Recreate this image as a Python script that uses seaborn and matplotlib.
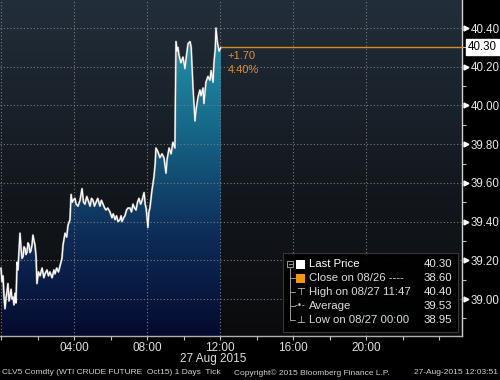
import numpy as np
import pandas as pd
import matplotlib
matplotlib.use("Agg")
import matplotlib.pyplot as plt
import matplotlib.transforms as mtransforms
from matplotlib.colors import LinearSegmentedColormap
from matplotlib.patches import Polygon, Rectangle
from matplotlib.lines import Line2D
import seaborn as sns

# ---------------- data ----------------
hours = [0.00, 0.05, 0.11, 0.16, 0.22, 0.27, 0.33, 0.38, 0.44, 0.50, 0.55, 0.60, 0.66, 0.71,
         0.77, 0.82, 0.88, 0.93, 0.99, 1.04, 1.10, 1.15, 1.21, 1.26, 1.32, 1.37, 1.42, 1.48,
         1.53, 1.59, 1.64, 1.70, 1.75, 1.81, 1.86, 1.92, 1.97,
         2.05, 2.14, 2.25, 2.35, 2.41, 2.52, 2.60, 2.68, 2.80, 2.90, 2.96, 3.05, 3.15, 3.23,
         3.34, 3.40, 3.51, 3.60, 3.67, 3.78, 3.84, 3.90, 3.95, 4.05, 4.12, 4.22, 4.33, 4.44,
         4.52, 4.60, 4.70, 4.77, 4.88, 4.96, 5.04, 5.12, 5.21, 5.30, 5.42, 5.50, 5.59, 5.68,
         5.75, 5.85, 5.97, 6.08, 6.15, 6.25, 6.33, 6.41, 6.52, 6.58, 6.63, 6.72, 6.79, 6.88,
         6.96, 7.07, 7.15, 7.23, 7.32, 7.40, 7.48, 7.56, 7.65, 7.73, 7.84, 7.90, 7.95, 8.05,
         8.10, 8.16, 8.27, 8.38, 8.45, 8.49, 8.60, 8.71, 8.82, 8.93, 9.04, 9.10, 9.21, 9.32,
         9.42, 9.53, 9.59, 9.65, 9.70, 9.75, 9.86, 9.97, 10.08, 10.14, 10.25, 10.36, 10.42,
         10.47, 10.52, 10.63, 10.68, 10.74, 10.79, 10.90, 10.96, 11.07, 11.12, 11.23, 11.34,
         11.45, 11.51, 11.62, 11.67, 11.74, 11.78, 11.85, 11.95, 12.05]
prices = [39.16, 39.09, 39.12, 39.02, 38.95, 39.00, 39.04, 39.08, 38.99, 39.02, 39.05, 39.00, 39.01, 38.97,
          39.03, 38.98, 39.19, 39.15, 39.25, 39.34, 39.26, 39.21, 39.22, 39.27, 39.26, 39.23, 39.24, 39.29,
          39.28, 39.24, 39.25, 39.28, 39.33, 39.30, 39.28, 39.22, 39.08,
          39.14, 39.12, 39.16, 39.11, 39.13, 39.15, 39.12, 39.14, 39.11, 39.15, 39.13, 39.16, 39.14, 39.17,
          39.21, 39.28, 39.34, 39.32, 39.38, 39.41, 39.54, 39.50, 39.51, 39.52, 39.49, 39.48, 39.51, 39.57,
          39.50, 39.49, 39.53, 39.51, 39.48, 39.52, 39.51, 39.48, 39.50, 39.52, 39.48, 39.51, 39.49, 39.47,
          39.46, 39.47, 39.45, 39.42, 39.44, 39.41, 39.43, 39.40, 39.41, 39.43, 39.40, 39.42, 39.43, 39.46,
          39.47, 39.47, 39.45, 39.49, 39.47, 39.46, 39.50, 39.52, 39.49, 39.51, 39.55, 39.49, 39.47, 39.37,
          39.45, 39.47, 39.56, 39.63, 39.70, 39.78, 39.76, 39.73, 39.75, 39.73, 39.65, 39.72, 39.78, 39.75,
          39.81, 39.78, 40.33, 40.28, 40.30, 40.26, 40.22, 40.25, 40.19, 40.24, 40.32, 40.33, 40.30,
          40.20, 40.09, 39.92, 39.97, 40.01, 40.04, 40.08, 40.05, 40.09, 40.01, 40.12, 40.15,
          40.13, 40.18, 40.12, 40.22, 40.29, 40.40, 40.33, 40.28, 40.30]

x_tick_hours = [0, 4, 8, 12, 16, 20]
x_tick_labels = ["", "04:00", "08:00", "12:00", "16:00", "20:00"]
x_minor_hours = [2, 6, 10, 14, 18, 22, 24]
y_tick_values = [39.00, 39.20, 39.40, 39.60, 39.80, 40.00, 40.20, 40.40]
y_minor_values = [38.90, 39.10, 39.30, 39.50, 39.70, 39.90, 40.10, 40.30]
date_label = "27 Aug 2015"

last_price = 40.30
prev_close = 38.60
high_price = 40.40
avg_price = 39.53
low_price = 38.95

legend_labels = ["Last Price", "Close on 08/26 ----", "High on 08/27 11:47", "Average",
                 "Low on 08/27 00:00"]
legend_values = [last_price, prev_close, high_price, avg_price, low_price]

footer_left = "CLV5 Comdty (WTI CRUDE FUTURE  Oct15) 1 Days  Tick"
footer_mid = "Copyright\u00a9 2015 Bloomberg Finance L.P."
footer_right = "27-Aug-2015 12:03:51"

# ---------------- style ----------------
sns.set_style("dark")
plt.rcParams["font.family"] = ["Liberation Sans", "DejaVu Sans"]

W, H = 500, 380
fig = plt.figure(figsize=(W / 100, H / 100), dpi=100, facecolor="black")
ax = fig.add_axes([0, 44 / H, 462 / W, 336 / H])
ax.set_facecolor("black")

XMIN, XMAX = -0.055, 25.26
YMIN, YMAX = 38.809, 40.545


def P(x, y):
    return (x / W, 1 - y / H)


# background gradient
bg_cmap = LinearSegmentedColormap.from_list(
    "bg", [(0, "#0b0b0d"), (0.45, "#13181e"), (1, "#222e3a")])
grad = np.linspace(0, 1, 256).reshape(-1, 1)
ax.imshow(grad, extent=[XMIN, XMAX, YMIN, YMAX], origin="lower", aspect="auto",
          cmap=bg_cmap, zorder=0, interpolation="bicubic")

# gradient fill under the price line
fill_cmap = LinearSegmentedColormap.from_list(
    "fill", [(0, "#060a2e"), (0.3, "#0d2c58"), (0.62, "#166889"), (1, "#25a3b8")])
df = pd.DataFrame({"hour": hours, "price": prices})
verts = np.column_stack([np.r_[df.hour.values, df.hour.values[-1], df.hour.values[0]],
                         np.r_[df.price.values, YMIN, YMIN]])
poly = Polygon(verts, closed=True, facecolor="none", edgecolor="none", transform=ax.transData)
ax.add_patch(poly)
im = ax.imshow(grad, extent=[df.hour.min(), df.hour.max(), YMIN, YMAX], origin="lower",
               aspect="auto", cmap=fill_cmap, zorder=1, interpolation="bicubic")
im.set_clip_path(poly)

# price line (gray shadow + white line)
sns.lineplot(data=df, x="hour", y="price", ax=ax, color="#8c8c8c", lw=1.5, zorder=3)
sns.lineplot(data=df, x="hour", y="price", ax=ax, color="white", lw=0.85, zorder=4)

# last price orange line
ax.plot([df.hour.iloc[-1], XMAX], [last_price, last_price], color="#d98c1f", lw=1.0,
        zorder=4, clip_on=False)
chg = last_price - prev_close
ax.annotate(f"+{chg:.2f}", xy=(df.hour.iloc[-1], last_price), xytext=(7, -9),
            textcoords="offset pixels", color="#e0902a", fontsize=8, ha="left", va="center")
ax.annotate(f"{chg / prev_close * 100:.2f}%", xy=(df.hour.iloc[-1], last_price), xytext=(7, -23),
            textcoords="offset pixels", color="#e0902a", fontsize=8, ha="left", va="center")

ax.set_xlim(XMIN, XMAX)
ax.set_ylim(YMIN, YMAX)

# axes / ticks
for s in ["left", "top"]:
    ax.spines[s].set_visible(False)
ax.spines["right"].set_visible(True)
ax.spines["right"].set_color("#d0d0d0")
ax.spines["right"].set_linewidth(1.0)
ax.spines["bottom"].set_visible(True)
ax.spines["bottom"].set_color("#b0b0b0")
ax.spines["bottom"].set_linewidth(1.0)

ax.set_xticks(x_tick_hours)
ax.set_xticklabels(x_tick_labels)
ax.set_xticks(x_minor_hours, minor=True)
ax.set_yticks(y_tick_values)
ax.set_yticklabels([f"{v:.2f}" for v in y_tick_values])
ax.set_yticks(y_minor_values, minor=True)
ax.yaxis.tick_right()
ax.set_xlabel("")
ax.set_ylabel("")

ax.tick_params(axis="x", which="both", direction="out", length=3, width=0.8,
               color="#c0c0c0", labelcolor="#e0e0e0", labelsize=8.5, pad=1.0, bottom=True)
ax.tick_params(axis="y", which="major", length=0, labelcolor="#e8e8e8", labelsize=8.3, pad=6,
               right=True, left=False)
ax.tick_params(axis="y", which="minor", direction="out", length=3, width=0.8, color="#c0c0c0",
               right=True, left=False)

ax.grid(True, which="major", color="#7a7a7a", linestyle=(0, (1, 2)), linewidth=0.8)
ax.set_axisbelow(False)

# triangular markers for major y ticks
tri_tr = mtransforms.offset_copy(ax.get_yaxis_transform(), fig=fig, x=4, y=0, units="dots")
ax.plot(np.ones(len(y_tick_values)), y_tick_values, linestyle="none", marker=">", ms=3.5,
        color="white", transform=tri_tr, clip_on=False, zorder=6)

# last price box on the axis
ax.annotate(f"{last_price:.2f}", xy=(1, last_price), xycoords=ax.get_yaxis_transform(),
            xytext=(6, 0), textcoords="offset pixels", ha="left", va="center", fontsize=8.3,
            color="black", annotation_clip=False, zorder=8,
            bbox=dict(boxstyle="square,pad=0.18", facecolor="white", edgecolor="white"))

# date label
fig.text(*P(213, 359), date_label, ha="center", va="center", fontsize=8.5, color="#e0e0e0")

# ---------------- legend box ----------------
fig.add_artist(Rectangle(P(283, 332), 175 / W, 79 / H, transform=fig.transFigure,
                         facecolor="black", edgecolor="#3c3c3c", lw=0.8, alpha=0.92, zorder=10))
row_y = [264, 278, 292, 306, 320]
tree_c = "#9a9a9a"
fig.add_artist(Line2D([290 / W, 290 / W], [1 - 268 / H, 1 - row_y[-1] / H],
                      transform=fig.transFigure, color=tree_c, lw=0.7, zorder=11))
for yy in row_y[1:]:
    fig.add_artist(Line2D([290 / W, 295 / W], [1 - yy / H, 1 - yy / H],
                          transform=fig.transFigure, color=tree_c, lw=0.7, zorder=11))
# collapse icon
fig.add_artist(Rectangle(P(287, 267), 6 / W, 6 / H, transform=fig.transFigure,
                         facecolor="black", edgecolor=tree_c, lw=0.7, zorder=12))
fig.add_artist(Line2D([288.5 / W, 291.5 / W], [1 - 264 / H, 1 - 264 / H],
                      transform=fig.transFigure, color=tree_c, lw=0.7, zorder=13))
# swatches
fig.add_artist(Rectangle(P(296, 268.5), 9 / W, 9 / H, transform=fig.transFigure,
                         facecolor="white", edgecolor="none", zorder=12))
fig.add_artist(Rectangle(P(296, 282.5), 9 / W, 9 / H, transform=fig.transFigure,
                         facecolor="#f0960f", edgecolor="none", zorder=12))
fig.text(*P(300.5, row_y[2]), "\u22a4", ha="center", va="center", fontsize=7.5,
         color="#d0d0d0", family=["DejaVu Sans"], zorder=12)
fig.text(*P(300.5, row_y[3]), "-\u2022-", ha="center", va="center", fontsize=6,
         color="#d0d0d0", family=["DejaVu Sans"], zorder=12)
fig.text(*P(300.5, row_y[4]), "\u22a5", ha="center", va="center", fontsize=7.5,
         color="#d0d0d0", family=["DejaVu Sans"], zorder=12)
for i, (lab, val) in enumerate(zip(legend_labels, legend_values)):
    fig.text(*P(309, row_y[i]), lab, ha="left", va="center", fontsize=8.2,
             color="white" if i == 0 else "#dcdcdc", zorder=12)
    fig.text(*P(452, row_y[i]), f"{val:.2f}", ha="right", va="center", fontsize=8.2,
             color="#e8e8e8", zorder=12)

# ---------------- footer ----------------
fig.text(*P(2, 373), footer_left, ha="left", va="center", fontsize=6, color="#d0d0d0")
fig.text(*P(312, 373), footer_mid, ha="center", va="center", fontsize=6, color="#d0d0d0")
fig.text(*P(498, 373), footer_right, ha="right", va="center", fontsize=6, color="#d0d0d0")

fig.savefig("out.png", dpi=100, facecolor="black")
